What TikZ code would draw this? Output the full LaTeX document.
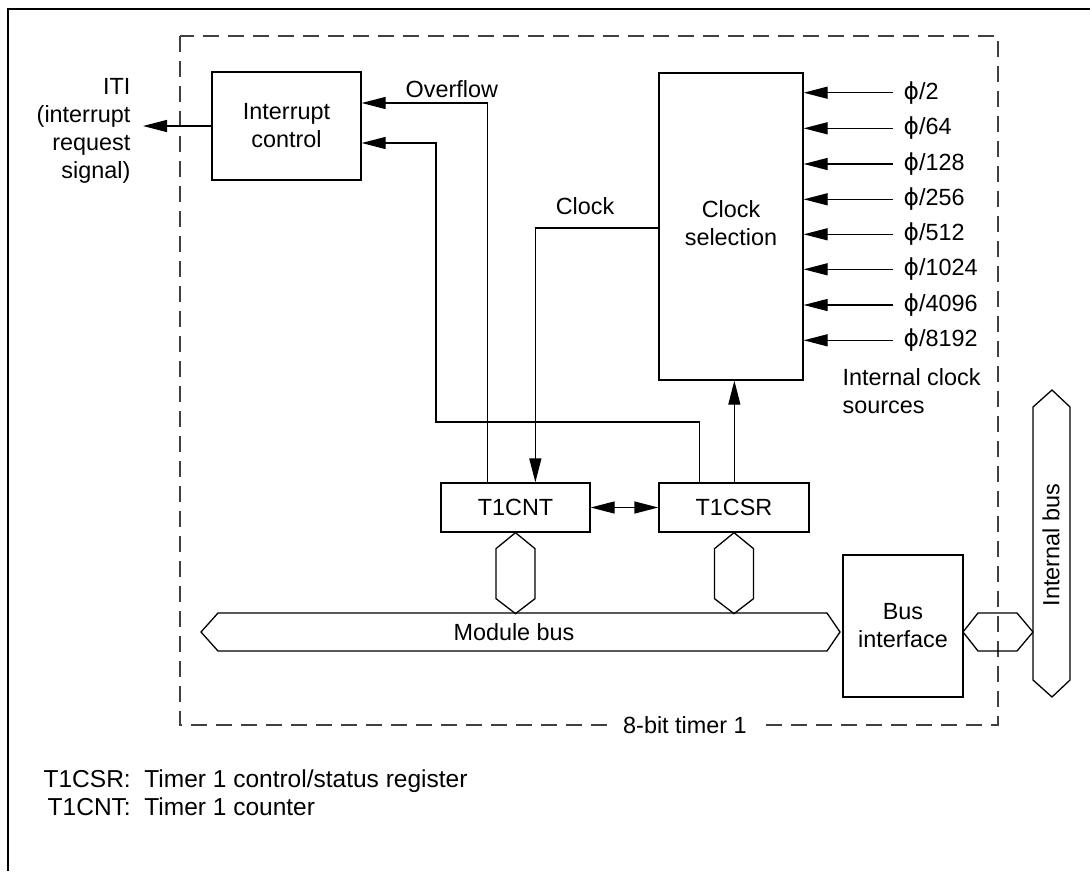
\documentclass[tikz,border=0pt]{standalone}
\usepackage{fontspec}
\setmainfont{Liberation Sans}
\newfontfamily\phifont{DejaVu Sans}
\usetikzlibrary{arrows.meta,calc}
\newcommand{\phisym}{{\phifont ϕ}}
\begin{document}
\begin{tikzpicture}[x=1pt,y=-1pt,
  font=\fontsize{23.4}{28}\selectfont,
  line width=1.3pt,
  box/.style={draw, inner sep=0pt, align=center},
  arr/.style={-{Triangle[length=24pt,width=12pt]}},
  darr/.style={{Triangle[length=24pt,width=12pt]}-{Triangle[length=24pt,width=12pt]}},
  bus/.style={draw, line join=miter},
  txt/.style={inner sep=0pt},
  frame/.style={dash pattern=on 16pt off 9pt, black!75}]
\useasboundingbox (0,0) rectangle (1090,871);
% outer frame
\draw (1090,9) -- (8,9) -- (8,871);
% dashed module boundary
\draw[frame] (180,36) rectangle (998,725);
\node[fill=white, inner xsep=12pt, inner ysep=2pt] (timerlbl) at (685,725) {8-bit timer 1};

% blocks
\node[box, minimum width=149pt, minimum height=108pt] (intc) at (286.5,126) {Interrupt\\control};
\node[box, minimum width=144pt, minimum height=307pt] (clksel) at (731,226.5) {};
\node[txt, align=center] (clkseltxt) at (731,223) {Clock\\selection};
\node[box, minimum width=149pt, minimum height=49pt] (t1cnt) at (515.5,507.5) {T1CNT};
\node[box, minimum width=150pt, minimum height=49pt] (t1csr) at (734,507.5) {T1CSR};
\node[box, minimum width=120pt, minimum height=142pt] (busif) at (903,626) {Bus\\interface};

% ITI output
\node[txt, align=right, anchor=north east] (iti) at (131,78) {ITI\\(interrupt\\request\\signal)};
\coordinate (itiend) at (143,126);
\draw[arr] (intc.west) -- (itiend);

% labels
\node[txt, anchor=base west] (ovf) at (405,97) {Overflow};
\node[txt, anchor=base] (clk) at (585,214) {Clock};
\node[txt, align=left, anchor=north west] (ics) at (842,368) {Internal clock\\sources};

% clock inputs
\foreach \yy/\t [count=\i] in {92.7/2, 128.3/64, 164/128, 199.3/256, 234.3/512, 269.3/1024, 305/4096, 340.3/8192} {
  \coordinate (src\i) at (893,\yy);
  \draw[arr] (src\i) -- (clksel.east |- src\i);
  \node[txt, anchor=west] (lbl\i) at (903,\yy) {\phisym/\t};
}

% connectors
\draw[arr] ([xshift=47pt]t1cnt.north west) |- ([yshift=23pt]intc.east);
\coordinate (bend) at (436,422);
\draw[arr] ([xshift=41pt]t1csr.north west) |- (bend) |- ([yshift=-17pt]intc.east);
\draw[arr] ([yshift=-1.5pt]clksel.west) -| ([xshift=95pt]t1cnt.north west);
\coordinate (csrup) at ([xshift=76pt]t1csr.north west);
\draw[arr] (csrup) -- (csrup |- clksel.south);
\draw[darr] (t1cnt.east) -- (t1csr.west);

% module bus
\draw[bus] (201,632) -- (218,613) -- (827,613) -- (840,632) -- (827,651) -- (218,651) -- cycle;
\node[txt] (mbus) at (514,632) {Module bus};
% register bus links
\draw[bus] (t1cnt.south) -- ++(19.5,16) -- ++(0,50) -- ++(-19.5,15) -- ++(-19.5,-15) -- ++(0,-50) -- cycle;
\draw[bus] (t1csr.south) -- ++(19.5,16) -- ++(0,50) -- ++(-19.5,15) -- ++(-19.5,-15) -- ++(0,-50) -- cycle;
% bus interface link
\draw[bus] (963,632) -- (978,613) -- (1017,613) -- (1033,632) -- (1017,651) -- (978,651) -- cycle;
% internal bus
\draw[bus] (1052,390) -- (1070,407) -- (1070,680) -- (1052,697) -- (1033,680) -- (1033,407) -- cycle;
\node[txt, rotate=90] (ibus) at (1051,545) {Internal bus};

% legend
\node[txt, anchor=base west, font=\fontsize{24.5}{28}\selectfont] (legend) at (43,787)
  {\begin{tabular}[t]{@{}r@{\hspace{13.6pt}}l@{}}T1CSR: & Timer 1 control/status register\\T1CNT: & Timer 1 counter\end{tabular}};
\end{tikzpicture}
\end{document}
